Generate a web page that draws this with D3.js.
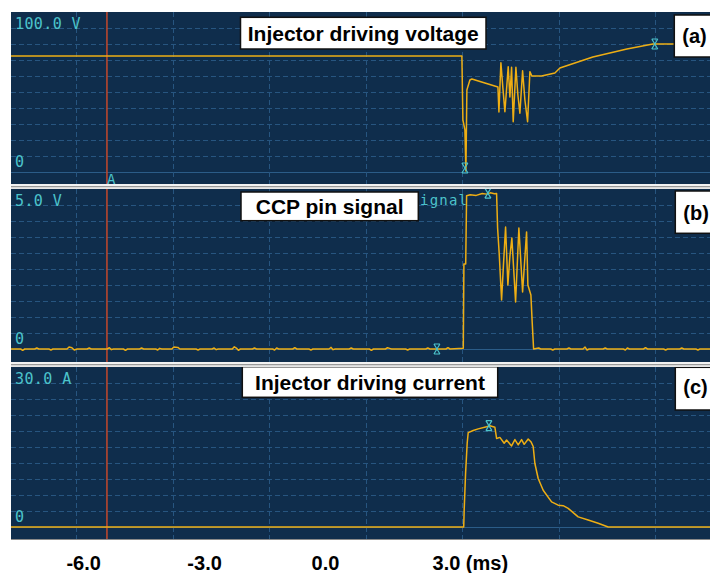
<!DOCTYPE html>
<html>
<head>
<meta charset="utf-8">
<script src="https://cdn.jsdelivr.net/npm/d3@7"></script>
<style>
  body { margin: 0; background: #ffffff; }
  svg { display: block; }
</style>
</head>
<body>
<svg id="chart" width="710" height="573"></svg>
<script>
// ---- time axis (ms) ----
const timeTicks = [-6, -3, 0, 3];
const tickLabels = ["-6.0", "-3.0", "0.0", "3.0"];
const timeUnit = "(ms)";
const timeDomain = [-7.79, 9.55];

// ---- panel text ----
const panelTitles = ["Injector driving voltage", "CCP pin signal", "Injector driving current"];
const panelTags = ["(a)", "(b)", "(c)"];
const fullScale = [100, 5, 30];
const scaleLabels = ["100.0 V", "5.0 V", "30.0 A"];
const channelNames = ["", "ignal", ""];

// ---- cursor A (ms) ----
const cursorTime = -5.41;
const cursorLabel = "A";

// ---- injector driving voltage [ms, V] ----
const voltageTrace = [
  [-7.79, 72.5], [3.395, 72.5], [3.42, 32.5], [3.47, 26.3], [3.495, 0.6],
  [3.519, 51.3], [3.594, 57.5], [3.643, 58.1], [3.966, 55.6], [4.289, 53.1],
  [4.314, 37.5], [4.363, 68.3], [4.412, 52.5], [4.462, 37.7], [4.544, 65.8],
  [4.586, 46.9], [4.628, 65.4], [4.668, 31.4], [4.735, 65.4], [4.784, 48.1],
  [4.834, 36.7], [4.901, 63.3], [4.958, 45.0], [5.025, 31.4], [5.082, 62.7],
  [5.131, 60.0], [5.372, 60.0], [5.702, 61.9], [5.826, 65.0], [6.644, 71.9],
  [7.488, 76.9], [8.133, 80.0], [9.55, 80.0]
];
const voltageMarks = [[3.47, 2.5], [8.18, 80.0]];

// ---- CCP pin signal [ms, V] ----
const ccpTrace = [
  [-7.79, 0], [-7.55, 0], [-7.5, -0.04], [-7.45, 0], [-7.2, 0], [-7.15, 0.03], [-7.1, 0],
  [-6.85, 0], [-6.8, -0.03], [-6.75, 0], [-6.4, 0], [-6.35, 0.06], [-6.28, 0.04], [-6.22, -0.03],
  [-6.15, 0], [-5.9, 0], [-5.85, 0.03], [-5.8, 0], [-5.4, 0], [-5.35, 0.04], [-5.3, -0.02],
  [-5.25, 0], [-5.0, 0], [-4.95, -0.04], [-4.9, 0], [-4.6, 0], [-4.55, 0.03], [-4.5, 0],
  [-4.2, 0], [-4.15, -0.03], [-4.1, 0.02], [-4.05, 0], [-3.8, 0], [-3.75, 0.06], [-3.65, 0.05],
  [-3.6, 0], [-3.2, 0], [-3.15, -0.03], [-3.1, 0], [-2.8, 0], [-2.75, 0.03], [-2.7, -0.02],
  [-2.65, 0], [-2.3, 0], [-2.25, 0.07], [-2.2, 0.03], [-2.15, -0.04], [-2.1, 0], [-1.8, 0],
  [-1.75, 0.03], [-1.7, 0], [-1.3, 0], [-1.25, -0.03], [-1.2, 0.03], [-1.15, 0], [-0.8, 0],
  [-0.75, 0.04], [-0.7, 0], [-0.4, 0], [-0.35, -0.03], [-0.3, 0], [0.1, 0], [0.15, 0.05],
  [0.2, -0.02], [0.25, 0], [0.6, 0], [0.65, 0.03], [0.7, 0], [1.1, 0], [1.15, -0.04], [1.2, 0],
  [1.5, 0], [1.55, 0.04], [1.6, 0.02], [1.65, 0], [2.0, 0], [2.05, -0.03], [2.1, 0], [2.5, 0],
  [2.55, 0.03], [2.6, 0], [3.0, 0], [3.05, 0.04], [3.1, 0], [3.43, 0.02],
  [3.445, 2.66], [3.49, 2.66], [3.512, 4.79], [3.6, 4.82], [3.75, 4.80], [3.9, 4.86],
  [4.0, 4.84], [4.1, 4.88], [4.2, 4.85], [4.256, 4.86],
  [4.281, 3.78], [4.32, 3.0], [4.38, 1.53], [4.425, 2.6], [4.479, 3.81], [4.536, 2.0],
  [4.586, 2.9], [4.635, 3.47], [4.727, 1.47], [4.809, 3.78], [4.901, 1.78], [5.0, 3.66],
  [5.032, 2.0], [5.107, 1.69], [5.139, 0.84], [5.174, 0.0],
  [5.3, 0.03], [5.35, 0], [5.6, 0], [5.65, -0.03], [5.7, 0], [6.0, 0], [6.05, 0.03], [6.1, 0],
  [6.4, 0], [6.45, 0.06], [6.5, -0.03], [6.55, 0], [6.9, 0], [6.95, 0.03], [7.0, 0], [7.4, 0],
  [7.45, -0.03], [7.5, 0.03], [7.55, 0], [7.9, 0], [7.95, 0.04], [8.0, 0], [8.4, 0],
  [8.45, -0.03], [8.5, 0], [8.8, 0], [8.85, 0.03], [8.9, 0], [9.2, 0], [9.25, -0.03],
  [9.3, 0], [9.55, 0]
];
const ccpMarks = [[2.776, 0.0], [4.04, 4.87]];

// ---- injector driving current [ms, A] ----
const currentTrace = [
  [-7.79, 0], [3.44, 0], [3.452, 3.19], [3.487, 10.1], [3.527, 15.75], [3.552, 17.7],
  [3.676, 18.1], [3.8, 18.4], [4.008, 18.8], [4.09, 19.0], [4.214, 18.7], [4.256, 16.6],
  [4.338, 16.8], [4.444, 15.7], [4.504, 16.3], [4.628, 15.2], [4.71, 16.4], [4.792, 15.4],
  [4.876, 16.4], [4.94, 15.5], [5.04, 16.5], [5.107, 16.0], [5.164, 15.1], [5.206, 11.9],
  [5.288, 9.1], [5.412, 6.9], [5.62, 4.7], [5.784, 4.1], [5.908, 4.0], [6.032, 3.5],
  [6.28, 1.9], [6.528, 1.3], [6.776, 0.7], [7.024, 0.0], [9.55, 0.0]
];
const currentMarks = [[4.065, 19.0]];

// ---- drawing ----
const X0 = 11, X1 = 710;
const svg = d3.select("#chart");

const x = d3.scaleLinear().domain(timeDomain).range([X0, X1]);
// scope graticule: one division per column
const xDiv = d3.scaleLinear().domain([0, 1]).range([76, 172.5]);
const gridCols = d3.range(0, 7);

const COL = {
  bg: "#0f2d4c",
  grid: "#275580",
  zero: "#2b5c88",
  trace: "#eeae14",
  cyan: "#4cc3cb",
  cursor: "#c4482c"
};

const layout = [
  { top: 12,  bottom: 184, titleBox: [240.5, 17.3, 245.5, 31.7], titleBase: 41,    tagBox: [674.3, 15, 42],    tagBase: 43 },
  { top: 189, bottom: 362, titleBox: [241, 192, 177.3, 28.7],    titleBase: 214.4, tagBox: [675.3, 191, 42.3], tagBase: 220, chanX: 420, chanBase: 205 },
  { top: 367, bottom: 540, titleBox: [242.3, 366.7, 255.4, 30.6], titleBase: 390,  tagBox: [675.3, 367.3, 42.7], tagBase: 394 }
];
const traces = [voltageTrace, ccpTrace, currentTrace];
const marks = [voltageMarks, ccpMarks, currentMarks];

const monoFont = "'DejaVu Sans Mono', monospace";
const boldFont = "'Liberation Sans', Arial, sans-serif";

layout.forEach((L, i) => {
  const zeroY = L.top + 160;
  const y = d3.scaleLinear().domain([0, fullScale[i]]).range([zeroY, L.top]);
  const g = svg.append("g");

  const clipId = "clip" + i;
  svg.append("clipPath").attr("id", clipId)
    .append("rect").attr("x", X0).attr("y", L.top).attr("width", X1 - X0).attr("height", L.bottom - L.top);

  g.append("rect").attr("x", X0).attr("y", L.top)
    .attr("width", X1 - X0).attr("height", L.bottom - L.top).attr("fill", COL.bg);

  const grid = g.append("g").attr("clip-path", `url(#${clipId})`);
  // horizontal graticule (10 divisions to full scale)
  const levels = d3.range(1, 10).map(k => fullScale[i] * k / 10);
  grid.selectAll("line.h").data(levels).join("line")
    .attr("x1", X0).attr("x2", X1)
    .attr("y1", d => Math.round(y(d)) + 0.5).attr("y2", d => Math.round(y(d)) + 0.5)
    .attr("stroke", COL.grid).attr("stroke-width", 1).attr("stroke-dasharray", "5,3");
  grid.append("line")
    .attr("x1", X0).attr("x2", X1)
    .attr("y1", Math.round(y(0)) + 0.5).attr("y2", Math.round(y(0)) + 0.5)
    .attr("stroke", COL.zero).attr("stroke-width", 1);
  // vertical graticule
  grid.selectAll("line.v").data(gridCols).join("line")
    .attr("x1", d => Math.round(xDiv(d)) + 0.5).attr("x2", d => Math.round(xDiv(d)) + 0.5)
    .attr("y1", L.top).attr("y2", L.bottom)
    .attr("stroke", COL.grid).attr("stroke-width", 1).attr("stroke-dasharray", "5,3");

  // cursor A
  g.append("line")
    .attr("x1", x(cursorTime)).attr("x2", x(cursorTime))
    .attr("y1", L.top).attr("y2", L.bottom)
    .attr("stroke", COL.cursor).attr("stroke-width", 1.5);

  // scale readouts
  g.append("text").attr("x", 15).attr("y", L.top + 17)
    .attr("font-family", monoFont).attr("font-size", 15).attr("letter-spacing", 0.4)
    .attr("fill", COL.cyan).text(scaleLabels[i]);
  g.append("text").attr("x", 15).attr("y", zeroY - 5)
    .attr("font-family", monoFont).attr("font-size", 15)
    .attr("fill", COL.cyan).text("0");

  if (channelNames[i]) {
    g.append("text").attr("x", L.chanX).attr("y", L.chanBase)
      .attr("font-family", monoFont).attr("font-size", 14).attr("letter-spacing", 1.2)
      .attr("fill", COL.cyan).text(channelNames[i]);
  }
  if (i === 0) {
    g.append("text").attr("x", x(cursorTime)).attr("y", L.bottom)
      .attr("font-family", monoFont).attr("font-size", 14)
      .attr("fill", COL.cyan).attr("clip-path", `url(#${clipId})`).text(cursorLabel);
  }

  // waveform
  const line = d3.line().x(d => x(d[0])).y(d => y(d[1]));
  g.append("path").datum(traces[i])
    .attr("clip-path", `url(#${clipId})`)
    .attr("d", line).attr("fill", "none")
    .attr("stroke", COL.trace).attr("stroke-width", 1.5).attr("stroke-linejoin", "round");

  // measurement markers
  g.selectAll("path.mk").data(marks[i]).join("path")
    .attr("transform", d => `translate(${x(d[0])},${y(d[1])})`)
    .attr("d", "M-3,-5H3M-3,5H3M-3,-5L3,5M3,-5L-3,5")
    .attr("fill", "none").attr("stroke", COL.cyan).attr("stroke-width", 1.2);

  // title box
  const tb = L.titleBox;
  g.append("rect").attr("x", tb[0]).attr("y", tb[1]).attr("width", tb[2]).attr("height", tb[3])
    .attr("fill", "#ffffff").attr("stroke", "#111").attr("stroke-width", 1.5);
  g.append("text").attr("x", tb[0] + tb[2] / 2).attr("y", L.titleBase)
    .attr("text-anchor", "middle").attr("font-family", boldFont)
    .attr("font-weight", "bold").attr("font-size", 21).attr("fill", "#000")
    .text(panelTitles[i]);

  // panel tag box
  const gb = L.tagBox;
  g.append("rect").attr("x", gb[0]).attr("y", gb[1]).attr("width", 60).attr("height", gb[2])
    .attr("fill", "#ffffff").attr("stroke", "#111").attr("stroke-width", 1.5);
  g.append("text").attr("x", gb[0] + 8).attr("y", L.tagBase)
    .attr("font-family", boldFont).attr("font-weight", "bold").attr("font-size", 20)
    .attr("fill", "#000").text(panelTags[i]);
});

// panel separators
[184, 362].forEach(s => {
  svg.append("rect").attr("x", X0).attr("y", s).attr("width", X1 - X0).attr("height", 2).attr("fill", "#f2f2f2");
  svg.append("rect").attr("x", X0).attr("y", s + 2).attr("width", X1 - X0).attr("height", 1.5).attr("fill", "#9a9a9a");
  svg.append("rect").attr("x", X0).attr("y", s + 3.5).attr("width", X1 - X0).attr("height", 1.5).attr("fill", "#e6e6e6");
});
svg.append("rect").attr("x", X0).attr("y", 539).attr("width", X1 - X0).attr("height", 1).attr("fill", "#8a8a8a");

// time axis labels
const axis = d3.axisBottom(x).tickValues(timeTicks)
  .tickFormat((d, i) => tickLabels[i]).tickSize(0).tickPadding(0);
const ax = svg.append("g").attr("transform", "translate(0,555)").call(axis);
ax.select(".domain").remove();
ax.selectAll("text")
  .attr("font-family", boldFont).attr("font-weight", "bold").attr("font-size", 20)
  .attr("fill", "#000").attr("dy", "0.75em");
const lastTick = ax.selectAll(".tick text").nodes()[timeTicks.length - 1];
const lastW = lastTick.getComputedTextLength();
ax.append("text")
  .attr("x", x(timeTicks[timeTicks.length - 1]) + lastW / 2 + 6)
  .attr("y", 0).attr("dy", "0.75em")
  .attr("text-anchor", "start")
  .attr("font-family", boldFont).attr("font-weight", "bold").attr("font-size", 20)
  .attr("fill", "#000").text(timeUnit);
</script>
</body>
</html>
